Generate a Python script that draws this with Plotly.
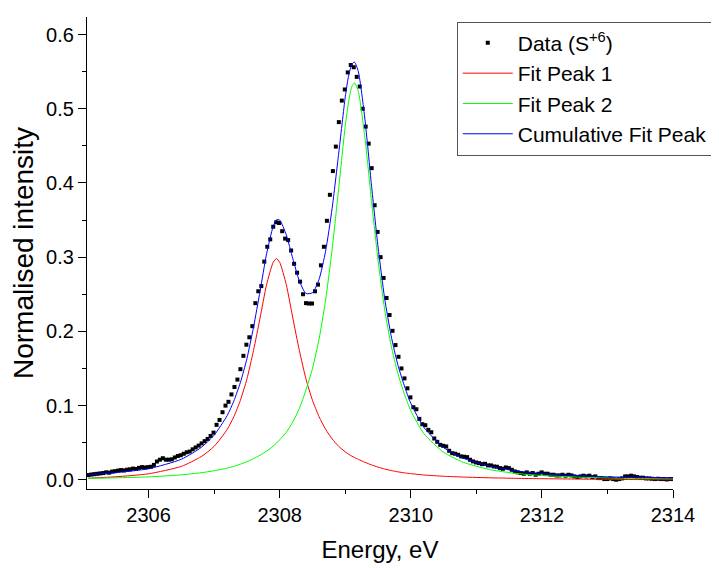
import numpy as np
import plotly.graph_objects as go

# ---------------- data ----------------
energy_start = 2305.08
energy_step = 0.0455

intensity = [
    0.0063, 0.007, 0.0075, 0.008, 0.0085, 0.009, 0.010, 0.0095, 0.011, 0.0115,
    0.0124, 0.013, 0.0125, 0.0135, 0.014, 0.015, 0.0145, 0.016, 0.017, 0.0165,
    0.017, 0.0175, 0.020, 0.0245, 0.027, 0.029, 0.027, 0.027, 0.0275, 0.030,
    0.032, 0.033, 0.035, 0.037, 0.038, 0.041, 0.0435, 0.046, 0.049, 0.052,
    0.055, 0.059, 0.0635, 0.074, 0.0806,
    0.091, 0.0999, 0.105, 0.115, 0.125, 0.135, 0.149, 0.167, 0.182, 0.192,
    0.207, 0.238, 0.254, 0.261, 0.294, 0.314,
    0.324, 0.341, 0.347, 0.346, 0.335, 0.325, 0.323, 0.309, 0.291, 0.279,
    0.267, 0.250, 0.238, 0.2375, 0.2375, 0.254, 0.263, 0.289, 0.314, 0.349,
    0.384, 0.416, 0.449, 0.482, 0.511, 0.526, 0.549, 0.559, 0.556, 0.543,
    0.530, 0.500, 0.476, 0.453, 0.420, 0.370, 0.334,
    0.300, 0.272, 0.245, 0.222,
    0.2007, 0.1815, 0.1657, 0.150, 0.1366, 0.1232, 0.111, 0.0977, 0.095, 0.082,
    0.0748, 0.0735, 0.0672, 0.064, 0.0556, 0.0511, 0.047, 0.0457, 0.0448, 0.039,
    0.0358, 0.035, 0.0336, 0.0314, 0.031, 0.0305, 0.0269, 0.0247, 0.0233, 0.0224,
    0.021, 0.0215, 0.0193, 0.0193, 0.0179, 0.0175, 0.0157, 0.0148, 0.0166, 0.0157,
    0.0134, 0.0112, 0.0099, 0.009, 0.0081, 0.0099, 0.0081, 0.009, 0.0067, 0.0081,
    0.0099, 0.0081, 0.0081, 0.0067, 0.0067, 0.0058, 0.0058, 0.0067, 0.0054, 0.0067,
    0.0058, 0.0045, 0.0036, 0.0045, 0.0054, 0.0045, 0.0054, 0.0036, 0.0045, 0.0022,
    0.0022, 0.0009, 0.0009, 0.0018, 0.0009, 0.0, 0.0009, 0.0018, 0.0045, 0.0045,
    0.0054, 0.0045, 0.0036, 0.0027, 0.0027, 0.0018, 0.0018, 0.0013, 0.0009, 0.0013,
    0.0009, 0.0009, 0.0004, 0.0009, 0.0009,
]

fit_energy = [
    2305.08, 2305.5, 2306.0, 2306.5, 2306.8, 2307.0, 2307.2, 2307.3, 2307.4, 2307.5,
    2307.6, 2307.7, 2307.8, 2307.9, 2307.95, 2308.0, 2308.1, 2308.2, 2308.3, 2308.4,
    2308.5, 2308.6, 2308.7, 2308.8, 2308.9, 2309.0, 2309.05, 2309.1, 2309.14, 2309.2,
    2309.3, 2309.4, 2309.5, 2309.6, 2309.7, 2309.8, 2309.9, 2310.0, 2310.2, 2310.5,
    2310.8, 2311.2, 2311.6, 2312.0, 2312.5, 2313.0, 2313.5, 2314.0,
]

fit_peak1 = [
    0.002, 0.004, 0.008, 0.018, 0.031, 0.045, 0.068, 0.085, 0.107, 0.136,
    0.174, 0.218, 0.263, 0.293, 0.298, 0.293, 0.263, 0.218, 0.174, 0.136,
    0.107, 0.085, 0.068, 0.055, 0.045, 0.0375, 0.0345, 0.0318, 0.030, 0.0275,
    0.0235, 0.020, 0.017, 0.0145, 0.0124, 0.0107, 0.0093, 0.0082, 0.0064, 0.0047,
    0.0036, 0.0026, 0.0019, 0.0014, 0.0009, 0.0005, 0.0002, 0.0,
]

fit_peak2 = [
    0.0018, 0.0026, 0.0038, 0.0066, 0.0094, 0.0121, 0.0157, 0.018, 0.021, 0.0243,
    0.0284, 0.033, 0.0386, 0.0454, 0.0494, 0.054, 0.064, 0.078, 0.096, 0.121,
    0.150, 0.1895, 0.242, 0.311, 0.393, 0.477, 0.509, 0.530, 0.535, 0.523,
    0.461, 0.376, 0.296, 0.230, 0.181, 0.144, 0.116, 0.093, 0.062, 0.037,
    0.0235, 0.0137, 0.0086, 0.0057, 0.0037, 0.0024, 0.0018, 0.0013,
]

fit_cumulative = [
    0.0068, 0.0096, 0.0148, 0.0276, 0.0434, 0.0601, 0.0867, 0.106, 0.131, 0.1633,
    0.2054, 0.254, 0.3046, 0.3414, 0.3504, 0.350, 0.330, 0.298, 0.268, 0.251,
    0.252, 0.270, 0.308, 0.366, 0.440, 0.516, 0.544, 0.560, 0.563, 0.550,
    0.486, 0.397, 0.314, 0.245, 0.194, 0.1555, 0.127, 0.103, 0.0705, 0.0435,
    0.029, 0.0182, 0.012, 0.0082, 0.0057, 0.0039, 0.003, 0.0023,
]

energy = np.round(energy_start + energy_step * np.arange(len(intensity)), 4)

FONT = "Liberation Sans, Arial, sans-serif"

fig = go.Figure()
fig.add_trace(go.Scatter(
    x=energy, y=intensity, mode="markers", name="Data (S<sup>+6</sup>)",
    marker=dict(symbol="square", size=4, color="black", line=dict(width=0)),
))
fig.add_trace(go.Scatter(
    x=fit_energy, y=fit_peak1, mode="lines", name="Fit Peak 1",
    line=dict(color="#FF0000", width=1, shape="spline", smoothing=0.6),
))
fig.add_trace(go.Scatter(
    x=fit_energy, y=fit_peak2, mode="lines", name="Fit Peak 2",
    line=dict(color="#00FF00", width=1, shape="spline", smoothing=0.6),
))
fig.add_trace(go.Scatter(
    x=fit_energy, y=fit_cumulative, mode="lines", name="Cumulative Fit Peak",
    line=dict(color="#0000FF", width=1, shape="spline", smoothing=0.6),
))

# the page body adds an 8px margin, so the figure is sized to the window minus it
fig.update_layout(
    width=711, height=560,
    margin=dict(l=79, r=46, t=9, b=79, autoexpand=False),
    plot_bgcolor="white", paper_bgcolor="white",
    font=dict(family=FONT, size=20, color="black"),
    showlegend=True,
    legend=dict(
        x=0.631, y=0.99, xanchor="left", yanchor="top",
        bgcolor="white", bordercolor="#555555", borderwidth=1,
        font=dict(family=FONT, size=21, color="black"),
        tracegroupgap=0, itemwidth=50,
    ),
)
fig.update_xaxes(
    range=[2305.06, 2314], showgrid=False, zeroline=False, automargin=False,
    showline=True, linecolor="black", linewidth=1.3,
    ticks="outside", ticklen=8, tickwidth=1.3, tickcolor="black",
    tick0=2306, dtick=2, tickfont=dict(size=20),
    minor=dict(ticks="outside", ticklen=4, tickwidth=1.3, tickcolor="black", dtick=1, showgrid=False),
    title=dict(text="Energy, eV", font=dict(size=24), standoff=16),
)
fig.update_yaxes(
    range=[-0.0125, 0.6237], showgrid=False, zeroline=False, automargin=False,
    showline=True, linecolor="black", linewidth=1.3,
    ticks="outside", ticklen=8, tickwidth=1.3, tickcolor="black",
    tick0=0, dtick=0.1, tickformat=".1f", tickfont=dict(size=20),
    minor=dict(ticks="outside", ticklen=4, tickwidth=1.3, tickcolor="black", dtick=0.05, showgrid=False),
    title=dict(text="Normalised intensity", font=dict(size=28), standoff=4),
)

fig.write_html("out.html")
